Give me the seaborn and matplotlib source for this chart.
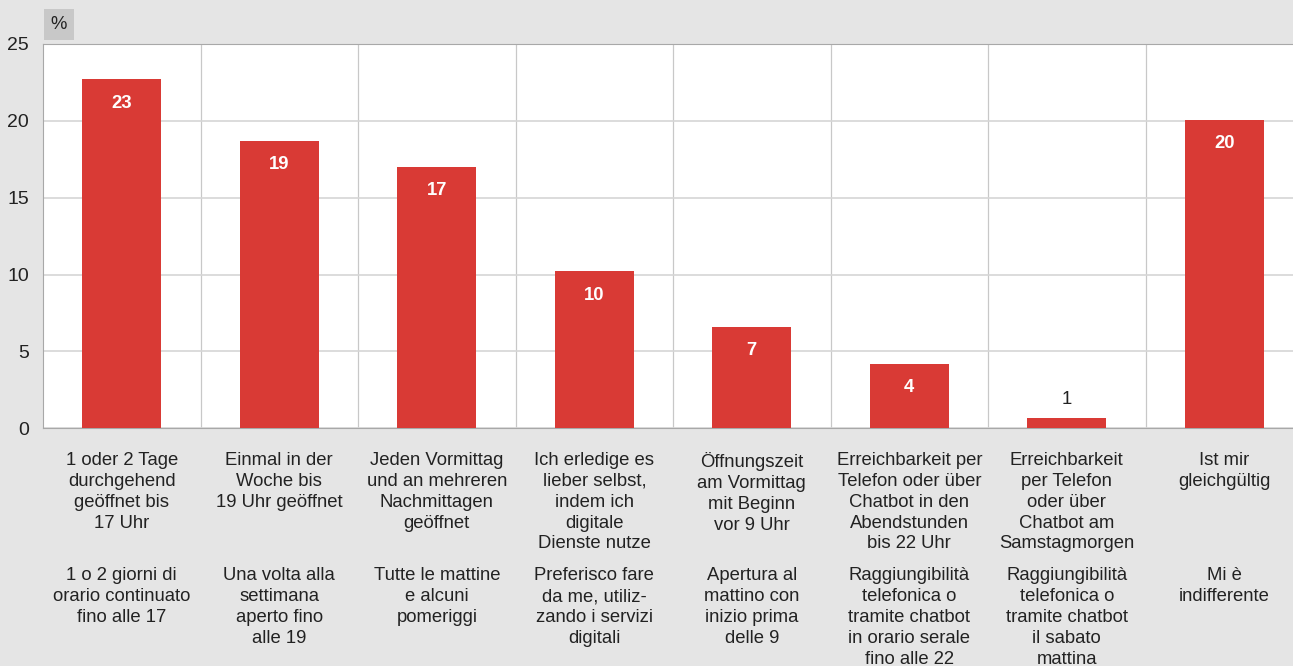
import matplotlib.pyplot as plt
import matplotlib.transforms as mtransforms
import numpy as np
import pandas as pd
import seaborn as sns

# Daten
kategorien_de = ["1 oder 2 Tage\ndurchgehend\ngeöffnet bis\n17 Uhr",
                 "Einmal in der\nWoche bis\n19 Uhr geöffnet",
                 "Jeden Vormittag\nund an mehreren\nNachmittagen\ngeöffnet",
                 "Ich erledige es\nlieber selbst,\nindem ich\ndigitale\nDienste nutze",
                 "Öffnungszeit\nam Vormittag\nmit Beginn\nvor 9 Uhr",
                 "Erreichbarkeit per\nTelefon oder über\nChatbot in den\nAbendstunden\nbis 22 Uhr",
                 "Erreichbarkeit\nper Telefon\noder über\nChatbot am\nSamstagmorgen",
                 "Ist mir\ngleichgültig"]
kategorien_it = ["1 o 2 giorni di\norario continuato\nfino alle 17",
                 "Una volta alla\nsettimana\naperto fino\nalle 19",
                 "Tutte le mattine\ne alcuni\npomeriggi",
                 "Preferisco fare\nda me, utiliz-\nzando i servizi\ndigitali",
                 "Apertura al\nmattino con\ninizio prima\ndelle 9",
                 "Raggiungibilità\ntelefonica o\ntramite chatbot\nin orario serale\nfino alle 22",
                 "Raggiungibilità\ntelefonica o\ntramite chatbot\nil sabato\nmattina",
                 "Mi è\nindifferente"]
werte = [22.7, 18.7, 17.0, 10.2, 6.6, 4.2, 0.65, 20.05]
beschriftung = ["23", "19", "17", "10", "7", "4", "1", "20"]

df = pd.DataFrame({"kat": kategorien_de, "wert": werte})

plt.rcParams['font.family'] = ['Liberation Sans', 'DejaVu Sans']
rot = "#d93a35"
grau_bg = "#e5e5e5"
fs = 13.3
zeilen = 1.3

fig = plt.figure(figsize=(12.93, 6.66), dpi=100, facecolor=grau_bg)
ax = fig.add_axes([0.0333, 0.357, 0.9745, 0.577])
ax.set_facecolor("white")

sns.barplot(data=df, x="kat", y="wert", color=rot, saturation=1, width=0.5, ax=ax, zorder=3)

ax.set_ylim(0, 25)
ax.set_xlim(-0.5, len(werte) - 0.5)
ax.set_yticks([0, 5, 10, 15, 20, 25])
ax.set_xlabel("")
ax.set_ylabel("")

# Gitter
ax.set_xticks(np.arange(len(werte)) + 0.5, minor=True)
ax.grid(axis="y", which="major", color="#d6d6d6", lw=1.2, zorder=0)
ax.grid(axis="x", which="minor", color="#c8c8c8", lw=0.9, zorder=0)
ax.grid(axis="x", which="major", visible=False)
ax.tick_params(axis="both", which="both", length=0)
ax.tick_params(axis="y", labelsize=14, colors="#222222", pad=10)
ax.tick_params(axis="x", labelsize=fs, colors="#222222", pad=17)
for lab in ax.get_xticklabels():
    lab.set_linespacing(zeilen)
for s in ["left", "top", "bottom"]:
    ax.spines[s].set_color("#a8a8a8")
ax.spines["right"].set_visible(False)

# Werte
for i, (v, t) in enumerate(zip(werte, beschriftung)):
    if v > 2:
        ax.text(i, v - 1.55, t, ha="center", va="center", color="white",
                fontsize=fs, fontweight="bold", zorder=4)
    else:
        ax.text(i, v + 1.2, t, ha="center", va="center", color="#222222",
                fontsize=fs, zorder=4)

# italienische Texte
trans = mtransforms.blended_transform_factory(ax.transData, ax.transAxes)
for i, t in enumerate(kategorien_it):
    ax.text(i, -0.362, t, transform=trans, ha="center", va="top", fontsize=fs,
            color="#222222", linespacing=zeilen)

# % Kästchen
fig.text(0.0455, 0.963, "%", ha="center", va="center", fontsize=fs, color="#222222",
         bbox=dict(boxstyle="square,pad=0.38", fc="#c8c8c8", ec="none"))

fig.savefig("out.png", dpi=100, facecolor=grau_bg)
